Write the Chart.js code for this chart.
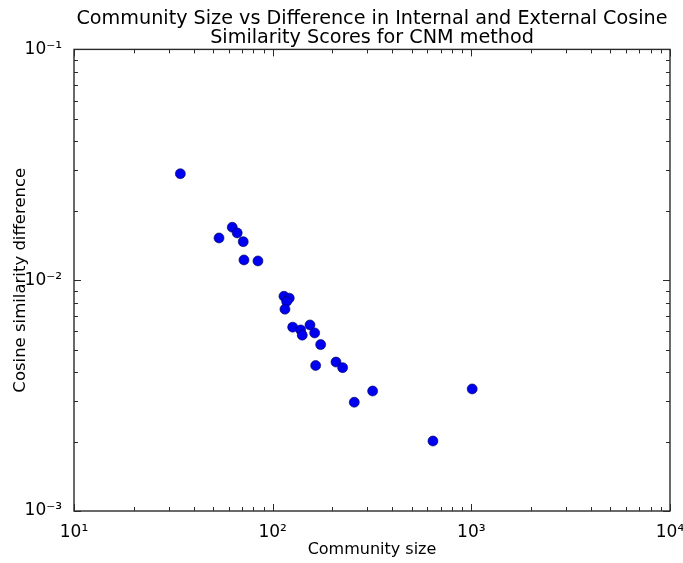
<!DOCTYPE html>
<html>
<head>
<meta charset="utf-8">
<script src="https://cdn.jsdelivr.net/npm/chart.js@4/dist/chart.umd.min.js"></script>
<style>
    html, body { margin: 0; padding: 0; background: #ffffff; }
    #wrap { width: 683px; height: 563px; }
</style>
</head>
<body>
<div id="wrap"><canvas id="cnm_chart" width="683" height="563"></canvas></div>
<script>
// Community sizes and the internal/external cosine similarity difference
const community_sizes = [
    34.3, 53.7, 62.6, 66.3, 71.1, 71.7, 84.3, 114, 121.2, 117.6, 115.3, 126.1,
    138.3, 140.9, 154.1, 162.7, 174.4, 164.6, 208.3, 225, 257.5, 318.6, 640.9, 1010
]
const cosine_differences = [
    0.02893, 0.01524, 0.01696, 0.01603, 0.01469, 0.01224, 0.01212, 0.00852, 0.00836, 0.00808, 0.00749, 0.00626,
    0.00609, 0.00578, 0.0064, 0.00591, 0.00526, 0.00427, 0.00442, 0.00418, 0.00296, 0.00331, 0.00201, 0.00338
]

const x_tick_values = [10, 100, 1000, 10000]
const x_tick_labels = ["10¹", "10²", "10³", "10⁴"]
const y_tick_values = [0.001, 0.01, 0.1]
const y_tick_labels = ["10⁻³", "10⁻²", "10⁻¹"]
const minor_multipliers = [2, 3, 4, 5, 6, 7, 8, 9]

const title_lines = [
    "Community Size vs Difference in Internal and External Cosine",
    "Similarity Scores for CNM method"
]
const x_title = "Community size"
const y_title = "Cosine similarity difference"

const font_family = "'DejaVu Sans', sans-serif"
const axis_color = "#2a2a2a"

function label_for(values, labels)
{
    return value => {
        const i = values.findIndex(v => Math.abs(Math.log10(v) - Math.log10(value)) < 1e-6)
        return i >= 0 ? labels[i] : ""
    }
}

// matplotlib style box with inward major/minor ticks on all four sides
const frame_plugin = {
    id: "frame",
    beforeDatasetsDraw(chart)
    {
        const { ctx, chartArea: area, scales: { x, y } } = chart
        ctx.save()
        ctx.strokeStyle = axis_color
        ctx.lineWidth = 1.4
        ctx.strokeRect(area.left, area.top, area.right - area.left, area.bottom - area.top)

        ctx.lineWidth = 1
        ctx.beginPath()
        x_tick_values.forEach(decade => {
            [1, ...minor_multipliers].forEach(m => {
                const v = decade * m
                if (v < x.min - 1e-9 || v > x.max + 1e-9) return
                const px = Math.round(x.getPixelForValue(v)) + 0.5
                const len = m === 1 ? 7 : 4
                ctx.moveTo(px, area.bottom)
                ctx.lineTo(px, area.bottom - len)
                ctx.moveTo(px, area.top)
                ctx.lineTo(px, area.top + len)
            })
        })
        y_tick_values.forEach(decade => {
            [1, ...minor_multipliers].forEach(m => {
                const v = decade * m
                if (v < y.min * 0.999999 || v > y.max * 1.000001) return
                const py = Math.round(y.getPixelForValue(v)) + 0.5
                const len = m === 1 ? 7 : 4
                ctx.moveTo(area.left, py)
                ctx.lineTo(area.left + len, py)
                ctx.moveTo(area.right, py)
                ctx.lineTo(area.right - len, py)
            })
        })
        ctx.stroke()
        ctx.restore()
    }
}

const context_2d = document.getElementById("cnm_chart").getContext("2d")

new Chart(context_2d, {
    type: "scatter",
    data: {
        datasets: [
            {
                label: "CNM communities",
                data: community_sizes.map((size, i) => ({ x: size, y: cosine_differences[i] })),
                backgroundColor: "#0000f0",
                borderColor: "rgba(0, 0, 80, 0.85)",
                borderWidth: 0.7,
                pointRadius: 5,
                pointHoverRadius: 5,
            }
        ]
    },
    options: {
        responsive: false,
        animation: false,
        devicePixelRatio: 1,
        layout: {
            padding: { left: 0, right: 13, top: 0, bottom: 0 }
        },
        plugins: {
            legend: { display: false },
            tooltip: { enabled: false },
            title: {
                display: true,
                fullSize: false,
                text: title_lines,
                color: "#000000",
                font: { family: font_family, size: 19.2, weight: "normal", lineHeight: 1.0 },
                padding: { top: 9, bottom: 2 },
            }
        },
        scales: {
            x: {
                type: "logarithmic",
                min: 10,
                max: 10000,
                grid: { display: false },
                border: { display: false },
                afterBuildTicks: scale => { scale.ticks = x_tick_values.map(v => ({ value: v, major: true })) },
                afterFit: scale => {
                    scale.height = 52
                    scale.paddingLeft = 0
                    scale.paddingRight = 0
                },
                ticks: {
                    autoSkip: false,
                    maxRotation: 0,
                    padding: 3,
                    color: "#000000",
                    font: { family: font_family, size: 17 },
                    callback: label_for(x_tick_values, x_tick_labels),
                },
                title: {
                    display: true,
                    text: x_title,
                    color: "#000000",
                    font: { family: font_family, size: 16 },
                    padding: 4,
                }
            },
            y: {
                type: "logarithmic",
                min: 0.001,
                max: 0.1,
                grid: { display: false },
                border: { display: false },
                afterBuildTicks: scale => { scale.ticks = y_tick_values.map(v => ({ value: v, major: true })) },
                afterFit: scale => {
                    scale.width = 74
                    scale.paddingTop = 0
                    scale.paddingBottom = 0
                },
                ticks: {
                    autoSkip: false,
                    padding: 4,
                    color: "#000000",
                    font: { family: font_family, size: 17 },
                    callback: label_for(y_tick_values, y_tick_labels),
                },
                title: {
                    display: true,
                    text: y_title,
                    color: "#000000",
                    font: { family: font_family, size: 16.5 },
                    padding: 11,
                }
            }
        }
    },
    plugins: [frame_plugin]
})
</script>
</body>
</html>
